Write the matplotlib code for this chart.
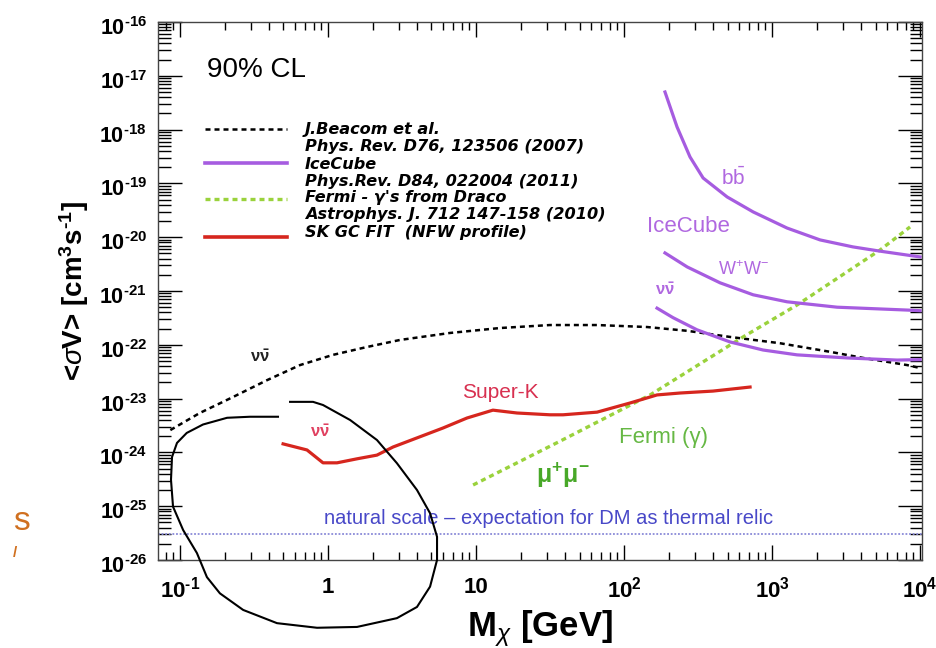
import math
import matplotlib
matplotlib.use("Agg")
import matplotlib.pyplot as plt
import matplotlib.transforms as mtransforms
from matplotlib.ticker import LogLocator, FixedLocator, FuncFormatter, NullFormatter

plt.rcParams['font.family'] = ['Liberation Sans', 'DejaVu Sans']
plt.rcParams['mathtext.fontset'] = 'custom'
plt.rcParams['mathtext.rm'] = 'Liberation Sans'
plt.rcParams['mathtext.it'] = 'Liberation Sans:italic'
plt.rcParams['mathtext.bf'] = 'Liberation Sans:bold'

HYPHEN = '\u2010'

# dark matter mass [GeV] and <sigma v> limits [cm^3 s^-1]
beacom_m = [0.086, 0.136, 0.228, 0.387, 0.647, 1.08, 1.83, 3.06, 6.67, 14.5, 31.6,
            65.7, 143, 267, 520, 1130, 2470, 4120, 8170, 10000]
beacom_sv = [2.6e-24, 5.4e-24, 1.07e-23, 2.2e-23, 4.2e-23, 6.5e-23, 9.1e-23, 1.23e-22,
             1.66e-22, 2.05e-22, 2.33e-22, 2.33e-22, 2.14e-22, 1.82e-22, 1.40e-22,
             1.07e-22, 7.4e-23, 5.7e-23, 4.2e-23, 3.7e-23]

superk_m = [0.497, 0.721, 0.925, 1.15, 1.57, 2.14, 2.75, 3.99, 5.98, 8.69, 13.0, 18.9,
            31.6, 38.7, 65.7, 110, 167, 239, 399, 710]
superk_sv = [1.44e-24, 1.11e-24, 6.4e-25, 6.4e-25, 7.6e-25, 8.9e-25, 1.26e-24, 1.86e-24,
             2.84e-24, 4.36e-24, 6.1e-24, 5.4e-24, 5.0e-24, 5.0e-24, 5.6e-24, 8.3e-24,
             1.17e-23, 1.27e-23, 1.38e-23, 1.64e-23]

fermi_m = [9.55, 37, 150, 637, 1475, 5370, 8550]
fermi_sv = [2.48e-25, 1.62e-24, 1.17e-23, 1.40e-22, 5.5e-22, 5.8e-21, 1.55e-20]

ic_bb_m = [189, 228, 279, 342, 497, 745, 1262, 2110, 3520, 5370, 10000]
ic_bb_sv = [5.0e-18, 1.12e-18, 3.1e-19, 1.26e-19, 5.6e-20, 2.95e-20, 1.48e-20, 8.9e-21,
            6.6e-21, 5.5e-21, 4.3e-21]

ic_ww_m = [189, 267, 445, 745, 1262, 2750, 8550, 10000]
ic_ww_sv = [5.1e-21, 2.8e-21, 1.42e-21, 8.5e-22, 6.3e-22, 5.0e-22, 4.4e-22, 4.3e-22]

ic_nn_m = [167, 214, 311, 520, 869, 1475, 3210, 7000, 10000]
ic_nn_sv = [4.8e-22, 3.2e-22, 1.9e-22, 1.13e-22, 8.0e-23, 6.5e-23, 5.7e-23, 5.2e-23, 5.3e-23]

thermal_sv = 3e-26

# pen loop drawn over the low mass region
loop_m = [0.459, 0.297, 0.208, 0.143, 0.111, 0.0954, 0.0883, 0.0869, 0.0897, 0.105,
          0.130, 0.152, 0.186, 0.267, 0.452, 0.843, 1.57, 2.92, 3.99, 4.89, 5.45, 5.45,
          4.89, 3.99, 2.92, 2.14, 1.41, 0.925, 0.792, 0.554]
loop_sv = [4.6e-24, 4.6e-24, 4.4e-24, 3.3e-24, 2.3e-24, 1.5e-24, 8.2e-25, 3.1e-25,
           9.8e-26, 3.6e-26, 1.35e-26, 4.8e-27, 2.4e-27, 1.18e-27, 6.7e-28, 5.5e-28,
           5.7e-28, 8.3e-28, 1.34e-27, 3.2e-27, 1.0e-26, 2.7e-26, 7.4e-26, 2.0e-25,
           6.3e-25, 1.7e-24, 4.0e-24, 7.6e-24, 8.7e-24, 8.7e-24]

x_ticks = [0.1, 1, 10, 100, 1000, 10000]
x_tick_labels = ['10$^{\\mathbf{' + HYPHEN + '1}}$', '1', '10',
                 '10$^{\\mathbf{2}}$', '10$^{\\mathbf{3}}$', '10$^{\\mathbf{4}}$']

legend_labels = [["J.Beacom et al.", "Phys. Rev. D76, 123506 (2007)"],
                 ["IceCube", "Phys.Rev. D84, 022004 (2011)"],
                 ["Fermi - \u03b3's from Draco", "Astrophys. J. 712 147-158 (2010)"],
                 ["SK GC FIT  (NFW profile)"]]

PURPLE = '#a65ce0'
RED = '#d6261e'
GREEN = '#9ad23c'
BLUE = '#4848c8'


def y_label_fmt(v, pos):
    e = round(math.log10(v))
    return '10$^{\\mathbf{' + HYPHEN + '%d}}$' % abs(e)


fig = plt.figure(figsize=(9.37, 6.48), dpi=100)
ax = fig.add_axes([158 / 937, 88 / 648, 764 / 937, 538 / 648])
ax.set_xscale('log')
ax.set_yscale('log')
ax.set_xlim(0.071, 1.03e4)
ax.set_ylim(1e-26, 1e-16)

ax.axhline(thermal_sv, color='#8a8ad8', lw=1.3, ls=(0, (1, 1)))
ax.plot(beacom_m, beacom_sv, color='black', lw=1.8, ls=(0, (2, 1.6)))
ax.plot(fermi_m, fermi_sv, color=GREEN, lw=2.4, ls=(0, (1.5, 1.2)))
ax.plot(superk_m, superk_sv, color=RED, lw=2.3)
ax.plot(ic_bb_m, ic_bb_sv, color=PURPLE, lw=2.3)
ax.plot(ic_ww_m, ic_ww_sv, color=PURPLE, lw=2.3)
ax.plot(ic_nn_m, ic_nn_sv, color=PURPLE, lw=2.3)
ax.plot(loop_m, loop_sv, color='black', lw=1.5, clip_on=False, zorder=5)

# curve labels
ax.text(545, 1.3e-19, r'b$\bar{\mathrm{b}}$', color='#b068e0', fontsize=15,
        ha='center', va='center')
ax.text(271, 1.55e-20, 'IceCube', color='#b068e0', fontsize=16, ha='center', va='center')
ax.text(637, 2.45e-21, r'W$^{+}$W$^{-}$', color='#b068e0', fontsize=13,
        ha='center', va='center')
ax.text(189, 1.05e-21, r'$\mathbf{\nu\bar{\nu}}$', color='#b068e0', fontsize=12,
        ha='center', va='center')
ax.text(0.347, 5.9e-23, r'$\mathbf{\nu\bar{\nu}}$', color='#222222', fontsize=12,
        ha='center', va='center')
ax.text(0.883, 2.4e-24, r'$\mathbf{\nu\bar{\nu}}$', color='#e04060', fontsize=12,
        ha='center', va='center')
ax.text(14.5, 1.32e-23, 'Super-K', color='#d83050', fontsize=15, ha='center', va='center')
ax.text(184, 1.86e-24, 'Fermi (\u03b3)', color='#66b844', fontsize=16,
        ha='center', va='center')
ax.text(38.7, 3.8e-25, r'$\mathbf{\mu^{+}\mu^{-}}$', color='#48a828', fontsize=18,
        ha='center', va='center')
ax.text(31.1, 6.0e-26, 'natural scale \u2013 expectation for DM as thermal relic',
        color=BLUE, fontsize=14.5, ha='center', va='center')

ax.text(0.064, 0.911, '90% CL', transform=ax.transAxes, fontsize=20,
        ha='left', va='center')

# hand-made legend block
samples = [('black', (0, (2, 1.6)), 1.8, 0.801),
           (PURPLE, '-', 2.6, 0.738),
           (GREEN, (0, (1.5, 1.2)), 2.4, 0.671),
           (RED, '-', 2.6, 0.600)]
for color, ls, lw, yy in samples:
    ax.plot([0.0615, 0.169], [yy, yy], transform=ax.transAxes, color=color, ls=ls, lw=lw)
text_rows = [0.800, 0.769, 0.735, 0.704, 0.673, 0.642, 0.609]
row = 0
for entry in legend_labels:
    for line in entry:
        ax.text(0.192, text_rows[row], line, transform=ax.transAxes,
                family=['DejaVu Sans'], fontsize=11.6, fontweight='bold',
                fontstyle='italic', ha='left', va='center')
        row += 1

# axes and ticks
ax.xaxis.set_major_locator(FixedLocator(x_ticks))
ax.xaxis.set_major_formatter(FuncFormatter(lambda v, p: x_tick_labels[p]))
ax.xaxis.set_minor_locator(LogLocator(base=10, subs=range(2, 10), numticks=20))
ax.xaxis.set_minor_formatter(NullFormatter())
ax.yaxis.set_major_locator(LogLocator(base=10, numticks=20))
ax.yaxis.set_major_formatter(FuncFormatter(y_label_fmt))
ax.yaxis.set_minor_locator(LogLocator(base=10, subs=range(2, 10), numticks=20))
ax.yaxis.set_minor_formatter(NullFormatter())

ax.tick_params(axis='both', which='both', direction='in', top=True, right=True,
               width=1, colors='black')
ax.tick_params(axis='x', which='major', length=11, labelsize=16, pad=12)
ax.tick_params(axis='x', which='minor', length=6)
ax.tick_params(axis='y', which='major', length=17, labelsize=15.5, pad=8)
ax.tick_params(axis='y', which='minor', length=9)
for lbl in ax.get_xticklabels() + ax.get_yticklabels():
    lbl.set_fontweight('bold')
# y labels sit a few pixels below their ticks
shift_down = mtransforms.ScaledTranslation(0, -0.04, fig.dpi_scale_trans)
for tick in ax.yaxis.get_major_ticks():
    tick.label1.set_transform(tick.label1.get_transform() + shift_down)
for s in ax.spines.values():
    s.set_linewidth(1.0)
    s.set_color('#444444')

ax.set_xlabel(r'M$_{\chi}$ [GeV]', fontsize=25, fontweight='bold', labelpad=4)
ax.set_ylabel('<$\\sigma$V> [cm$^{\\mathbf{3}}$s$^{\\mathbf{' + HYPHEN + '1}}$]',
              fontsize=20, fontweight='bold', labelpad=6)

# fragments of neighbouring text at the left margin
fig.text(13 / 937, 1 - 521 / 648, 's', color='#d07020', fontsize=24,
         ha='left', va='center')
fig.text(13 / 937, 1 - 553 / 648, '/', color='#d07020', fontsize=11,
         fontweight='bold', ha='left', va='center')

fig.savefig('out.png', dpi=100)
